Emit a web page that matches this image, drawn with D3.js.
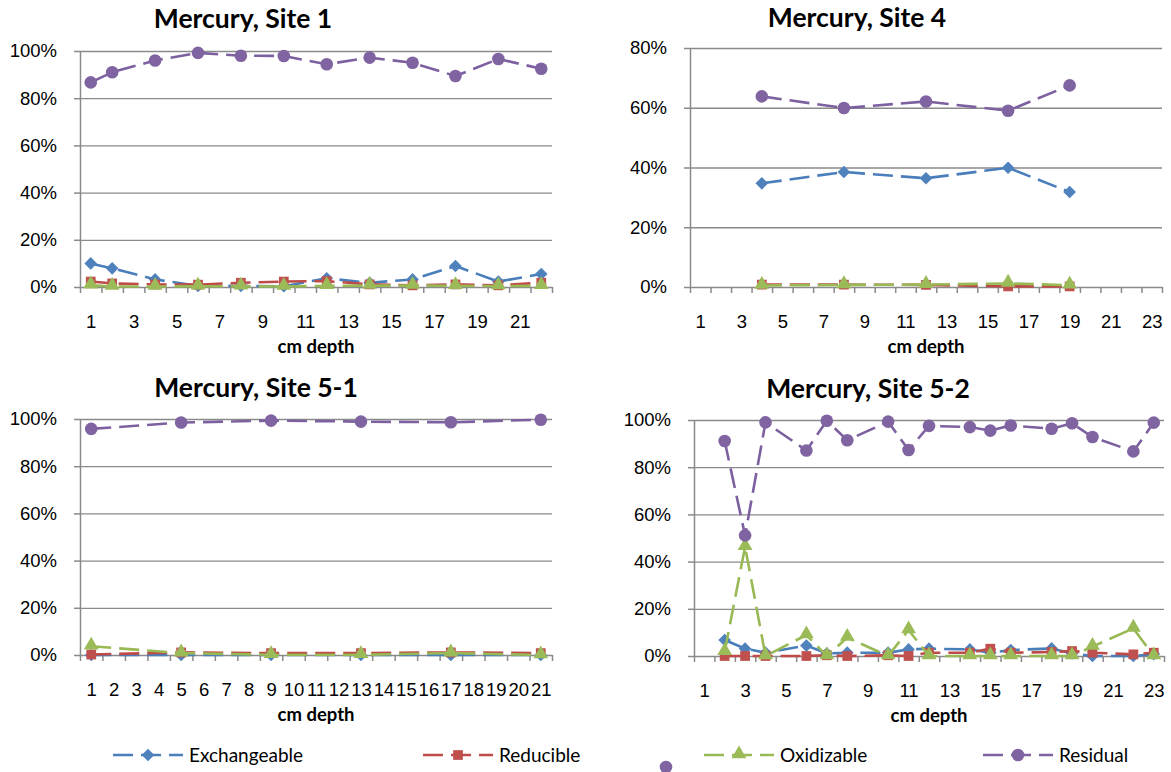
<!doctype html>
<html>
<head>
<meta charset="utf-8"/>
<title>Mercury fractions by depth</title>
<script src="https://cdnjs.cloudflare.com/ajax/libs/d3/7.8.5/d3.min.js"></script>
<style>
  body { margin: 0; background: #fff; }
  svg { display: block; font-family: Lato, "Open Sans", sans-serif; }
  .grid line { stroke: #8a8a8a; stroke-width: 1.3; }
  .grid path { display: none; }
  .axis path, .axis line { stroke: #8a8a8a; stroke-width: 1.5; }
  .axis text { font-size: 18.5px; fill: #000; }
</style>
</head>
<body>
<svg width="1171" height="772"></svg>
<script>
// series names / colours
var seriesNames = ["Exchangeable", "Reducible", "Oxidizable", "Residual"];
var lineColors = ["#4a7ebb", "#be4b48", "#98b954", "#7d60a0"];
var markColors = ["#4f81bd", "#c0504d", "#9bbb59", "#8064a2"];

// Site 1 (percent)
var site1Depth = [1, 2, 4, 6, 8, 10, 12, 14, 16, 18, 20, 22];
var site1Exch  = [10.0, 7.9, 3.2, 0.5, 0.5, 0.3, 3.7, 1.8, 3.2, 8.9, 2.3, 5.5];
var site1Red   = [2.3, 1.5, 1.1, 1.0, 1.8, 2.3, 2.5, 1.1, 0.7, 1.1, 0.7, 1.8];
var site1Oxi   = [0.8, 0.2, 0.2, 0.3, 0.3, 0.2, 0.5, 0.6, 0.6, 0.5, 0.4, 0.5];
var site1Res   = [86.7, 91.0, 96.0, 99.2, 98.0, 97.9, 94.4, 97.2, 95.0, 89.4, 96.6, 92.5];

// Site 4
var site4Depth = [4, 8, 12, 16, 19];
var site4Exch  = [34.7, 38.5, 36.4, 39.9, 31.8];
var site4Red   = [0.8, 0.8, 0.7, 0.2, 0.2];
var site4Oxi   = [0.5, 0.7, 0.8, 1.2, 0.6];
var site4Res   = [63.8, 59.9, 62.1, 59.0, 67.5];

// Site 5-1
var site51Depth = [1, 5, 9, 13, 17, 21];
var site51Exch  = [0, 0, 0, 0, 0, 0];
var site51Red   = [0.2, 1.1, 0.8, 0.8, 1.1, 0.8];
var site51Oxi   = [3.7, 0.8, 0.1, 0.1, 0.8, 0];
var site51Res   = [95.8, 98.5, 99.3, 98.9, 98.6, 99.7];

// Site 5-2
var site52Depth = [2, 3, 4, 6, 7, 8, 10, 11, 12, 14, 15, 16, 18, 19, 20, 22, 23];
var site52Exch  = [6.8, 3.1, 1.4, 4.4, 1.1, 1.4, 1.4, 2.8, 3.1, 2.8, 1.4, 2.5, 3.2, 1.1, 0, 0, 0.8];
var site52Red   = [0, 0, 0, 0, 0.3, 0, 0.3, 0, 1.4, 1.4, 3.1, 1.4, 1.7, 2.1, 1.4, 0.7, 1.4];
var site52Oxi   = [1.8, 46.3, 0, 8.9, 0, 7.8, 0, 11, 0, 0, 0, 0, 0, 0, 4, 11.7, 0];
var site52Res   = [91.1, 51.1, 99, 87.1, 99.7, 91.4, 99.3, 87.3, 97.5, 97, 95.5, 97.7, 96.3, 98.6, 92.8, 86.7, 98.9];

var yTicks100 = [0, 20, 40, 60, 80, 100];
var yTicks80 = [0, 20, 40, 60, 80];

var panels = [
  {title: "Mercury, Site 1", tx: 243, ty: 28, x0: 80, x1: 552, top: 51, bottom: 287, n: 22, yMax: 100, yTicks: yTicks100, labelStep: 2,
   depth: site1Depth, series: [site1Exch, site1Red, site1Oxi, site1Res]},
  {title: "Mercury, Site 4", tx: 857, ty: 27, x0: 690, x1: 1162, top: 48, bottom: 287, n: 23, yMax: 80, yTicks: yTicks80, labelStep: 2,
   depth: site4Depth, series: [site4Exch, site4Red, site4Oxi, site4Res]},
  {title: "Mercury, Site 5-1", tx: 256, ty: 397, x0: 80, x1: 552, top: 419, bottom: 655, n: 21, yMax: 100, yTicks: yTicks100, labelStep: 1,
   depth: site51Depth, series: [site51Exch, site51Red, site51Oxi, site51Res]},
  {title: "Mercury, Site 5-2", tx: 868, ty: 398, x0: 694, x1: 1164, top: 420, bottom: 656, n: 23, yMax: 100, yTicks: yTicks100, labelStep: 2,
   depth: site52Depth, series: [site52Exch, site52Red, site52Oxi, site52Res]}
];

var svg = d3.select("svg");

function drawMarker(g, i, cx, cy) {
  if (i === 0) {
    g.append("path").attr("d", d3.symbol(d3.symbolSquare, 80)())
      .attr("transform", "translate(" + cx + "," + cy + ") rotate(45)").attr("fill", markColors[i]);
  } else if (i === 1) {
    g.append("path").attr("d", d3.symbol(d3.symbolSquare, 95)())
      .attr("transform", "translate(" + cx + "," + cy + ")").attr("fill", markColors[i]);
  } else if (i === 2) {
    g.append("path").attr("d", d3.symbol(d3.symbolTriangle, 95)())
      .attr("transform", "translate(" + cx + "," + (cy - 1) + ")").attr("fill", markColors[i]);
  } else {
    g.append("circle").attr("cx", cx).attr("cy", cy).attr("r", 6.3).attr("fill", markColors[i]);
  }
}

panels.forEach(function(p) {
  var g = svg.append("g");
  var x = d3.scaleLinear().domain([0.5, p.n + 0.5]).range([p.x0, p.x1]);
  var y = d3.scaleLinear().domain([0, p.yMax]).range([p.bottom, p.top]);

  // gridlines
  g.append("g").attr("class", "grid")
    .attr("transform", "translate(" + p.x0 + ",0)")
    .call(d3.axisLeft(y).tickValues(p.yTicks.slice(1)).tickSize(-(p.x1 - p.x0)).tickFormat(""));

  // y axis
  g.append("g").attr("class", "axis")
    .attr("transform", "translate(" + p.x0 + ",0)")
    .call(d3.axisLeft(y).tickValues(p.yTicks).tickSize(6).tickSizeOuter(0).tickPadding(17)
      .tickFormat(function(d) { return d + "%"; }));

  // x axis ticks at category boundaries
  var bounds = d3.range(0.5, p.n + 1, 1);
  g.append("g").attr("class", "axis")
    .attr("transform", "translate(0," + p.bottom + ")")
    .call(d3.axisBottom(x).tickValues(bounds).tickSize(6).tickSizeOuter(0).tickFormat(""));

  // x category labels
  var cats = d3.range(1, p.n + 1).filter(function(c) { return (c - 1) % p.labelStep === 0; });
  g.append("g").attr("class", "axis")
    .attr("transform", "translate(0," + (p.bottom + 28) + ")")
    .call(d3.axisBottom(x).tickValues(cats).tickSize(0).tickPadding(0).tickFormat(d3.format("d")))
    .call(function(a) { a.select(".domain").remove(); });

  // axis title
  g.append("text").attr("x", (p.x0 + p.x1) / 2).attr("y", p.bottom + 66)
    .attr("text-anchor", "middle").attr("font-weight", "bold").attr("font-size", 18.5).text("cm depth");

  // chart title
  g.append("text").attr("x", p.tx).attr("y", p.ty)
    .attr("text-anchor", "middle").attr("font-weight", "bold").attr("font-size", 26.5).text(p.title);

  // series
  p.series.forEach(function(vals, i) {
    var pts = p.depth.map(function(d, k) { return [x(d), y(vals[k])]; });
    var sg = g.append("g");
    sg.append("path").attr("d", d3.line()(pts))
      .attr("fill", "none").attr("stroke", lineColors[i]).attr("stroke-width", 2.6)
      .attr("stroke-dasharray", "20,8");
    pts.forEach(function(pt) { drawMarker(sg, i, pt[0], pt[1]); });
  });
});

// legend
var legendX = [113, 423, 704, 983];
var legendY = 755;
seriesNames.forEach(function(name, i) {
  var lg = svg.append("g");
  var lx = legendX[i];
  lg.append("line").attr("x1", lx).attr("x2", lx + 70).attr("y1", legendY).attr("y2", legendY)
    .attr("stroke", lineColors[i]).attr("stroke-width", 2.6).attr("stroke-dasharray", "20,8");
  drawMarker(lg, i, lx + 35, legendY);
  lg.append("text").attr("x", lx + 76).attr("y", legendY + 7).attr("font-size", 19).text(name);
});
// stray legend marker
drawMarker(svg.append("g"), 3, 666, 767);
</script>
</body>
</html>
